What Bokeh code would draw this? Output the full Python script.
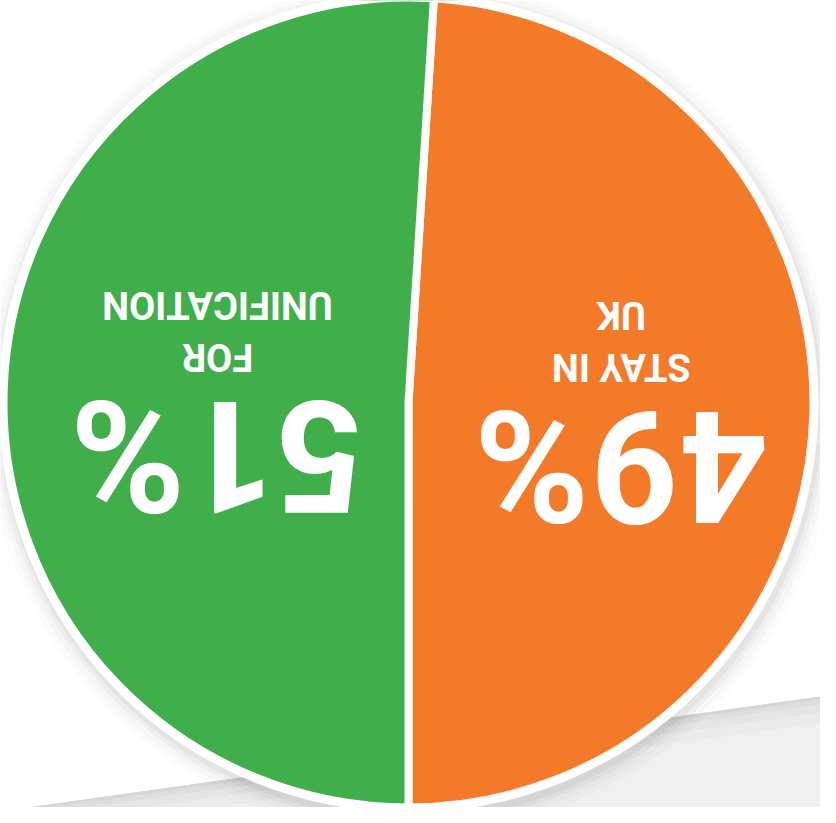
import math
from bokeh.plotting import figure
from bokeh.models import Range1d, ColumnDataSource
from bokeh.core.properties import value
from bokeh.embed import file_html
from bokeh.resources import INLINE

# ---- data ----
labels = ["STAY IN UK", "FOR UNIFICATION"]
values = [49, 51]
colors = ["#F37A29", "#41AE4C"]
pct_texts = ["49%", "51%"]
line1 = ["STAY IN", "FOR"]
line2 = ["UK", "UNIFICATION"]

# ---- geometry (data units == pixels; y = 823 - screen y) ----
H = 823
cx, cy, R = 416, H - 410, 405
acc = -math.pi / 2
starts, ends = [], []
total = sum(values)
for v in values:
    starts.append(acc)
    acc += v / total * 2 * math.pi
    ends.append(acc)

src = ColumnDataSource(dict(start=starts, end=ends, color=colors, label=labels))

p = figure(width=820, height=807, x_range=Range1d(8, 828), y_range=Range1d(8, 815),
           output_backend="svg", toolbar_location=None, min_border=0,
           x_axis_type=None, y_axis_type=None, outline_line_color=None,
           background_fill_color="white", border_fill_color="white")
p.grid.visible = False

# paper fold / gray region at bottom
p.patch([0, 836, 836, 0], [H - 820, H - 703, 0, 0], color="#efefef", line_color=None)
for d, c in [(26, "#ebebeb"), (16, "#e5e5e5"), (8, "#dedede"), (3, "#d6d6d6")]:
    p.patch([0, 836, 836, 0], [H - 820, H - 703, H - 703 - d, H - 820 - d], color=c, line_color=None)

# soft drop shadow of the pie
for extra, a in [(22, 0.015), (16, 0.02), (11, 0.03), (7, 0.04)]:
    p.circle(x=[cx + 2], y=[cy - 5], radius=R + extra, fill_color="black",
             fill_alpha=a, line_color=None)

# white disc (outer ring)
p.circle(x=[cx], y=[cy], radius=R + 5, fill_color="white", line_color=None)

p.wedge(x=cx, y=cy, radius=R, start_angle="start", end_angle="end",
        fill_color="color", line_color="white", line_width=8, source=src)

font = value("Roboto")
tx = [629, 225]
p.text(x=tx, y=[H - 473, H - 463], text=pct_texts, angle=math.pi,
       text_font=font, text_font_style="bold", text_font_size="156px",
       text_color="white", text_align="center", text_baseline="middle")
p.text(x=tx, y=[H - 374, H - 364], text=line1, angle=math.pi,
       text_font=font, text_font_style="bold", text_font_size="38px",
       text_color="white", text_align="center", text_baseline="middle")
p.text(x=tx, y=[H - 322, H - 312], text=line2, angle=math.pi,
       text_font=font, text_font_style="bold", text_font_size="38px",
       text_color="white", text_align="center", text_baseline="middle")

open("out.html", "w").write(file_html(p, INLINE))
